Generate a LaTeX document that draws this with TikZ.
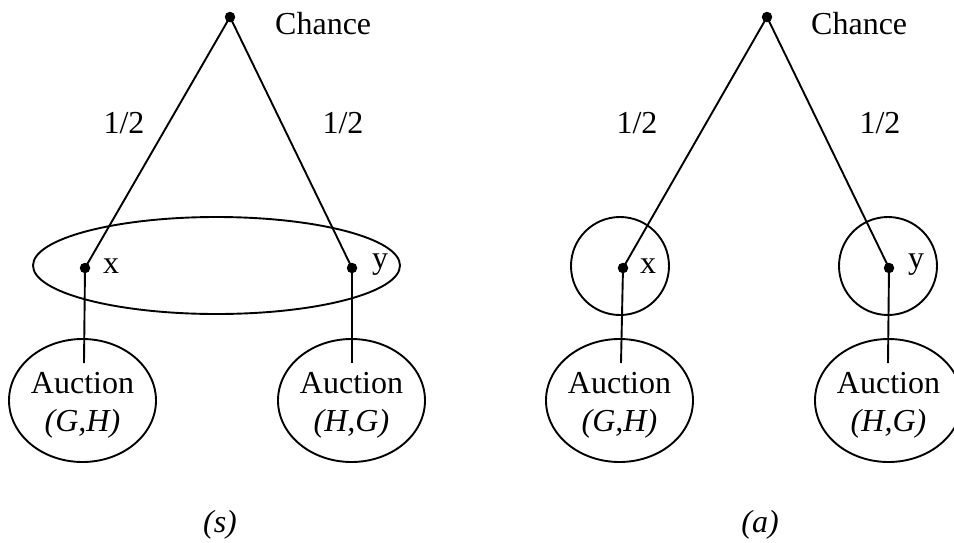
\documentclass[tikz,border=0pt]{standalone}
\usepackage{fontspec}
\setmainfont{Liberation Serif}
\usetikzlibrary{shapes.geometric}
\begin{document}
\begin{tikzpicture}[x=1pt,y=-1pt,
  dot/.style={circle,fill=black,inner sep=0pt,minimum size=10.5pt},
  txt/.style={font=\fontsize{32}{38}\selectfont,inner sep=0pt},
  edge/.style={line width=1.9pt},
  auc/.style={draw,line width=1.9pt,ellipse,minimum width=147pt,minimum height=123pt,inner sep=0pt},
  infoset/.style={draw,line width=1.9pt}]
\useasboundingbox (0,0) rectangle (954,542);
% ---------- left panel (s) ----------
\node[dot] (c1) at (230,17) {};
\node[txt,anchor=base west] (c1t) at (275,34) {Chance};
\node[dot] (x1) at (85,268) {};
\node[dot] (y1) at (352,268) {};
\draw[edge] (c1.center) -- (x1.center);
\draw[edge] (c1.center) -- (y1.center);
\node[txt,anchor=base] (p1l) at (124,133) {1/2};
\node[txt,anchor=base] (p1r) at (343,133) {1/2};
\node[txt,anchor=base west] (x1t) at (103,273) {x};
\node[txt,anchor=base west] (y1t) at (372,268) {y};
\draw[infoset] (216.5,265.5) ellipse [x radius=183.5, y radius=48.5];
\node[auc] (a1l) at (82.5,400.5) {};
\node[auc] (a1r) at (351.5,400.5) {};
\coordinate (e1l) at (84,363);
\coordinate (e1r) at (352,363);
\draw[edge] (x1.center) -- (e1l);
\draw[edge] (y1.center) -- (e1r);
\node[txt,anchor=base] (t1l) at (82.5,393) {Auction};
\node[txt,anchor=base] (u1l) at (82.5,431) {\itshape (G,H)};
\node[txt,anchor=base] (t1r) at (351.5,393) {Auction};
\node[txt,anchor=base] (u1r) at (351.5,431) {\itshape (H,G)};
\node[txt,anchor=base] (s) at (220,532) {\itshape (s)};
% ---------- right panel (a) ----------
\node[dot] (c2) at (767,17) {};
\node[txt,anchor=base west] (c2t) at (811,34) {Chance};
\node[dot] (x2) at (623,268) {};
\node[dot] (y2) at (889,268) {};
\draw[edge] (c2.center) -- (x2.center);
\draw[edge] (c2.center) -- (y2.center);
\node[txt,anchor=base] (p2l) at (637,133) {1/2};
\node[txt,anchor=base] (p2r) at (880,133) {1/2};
\node[txt,anchor=base west] (x2t) at (640,273) {x};
\node[txt,anchor=base west] (y2t) at (908,268) {y};
\draw[infoset] (620,266) circle [radius=49];
\draw[infoset] (888,266) circle [radius=49];
\node[auc] (a2l) at (619.5,400.5) {};
\node[auc] (a2r) at (888.5,400.5) {};
\coordinate (e2l) at (621,363);
\coordinate (e2r) at (888,363);
\draw[edge] (x2.center) -- (e2l);
\draw[edge] (y2.center) -- (e2r);
\node[txt,anchor=base] (t2l) at (619.5,393) {Auction};
\node[txt,anchor=base] (u2l) at (619.5,431) {\itshape (G,H)};
\node[txt,anchor=base] (t2r) at (888.5,393) {Auction};
\node[txt,anchor=base] (u2r) at (888.5,431) {\itshape (H,G)};
\node[txt,anchor=base] (a) at (760,532) {\itshape (a)};
\end{tikzpicture}
\end{document}
